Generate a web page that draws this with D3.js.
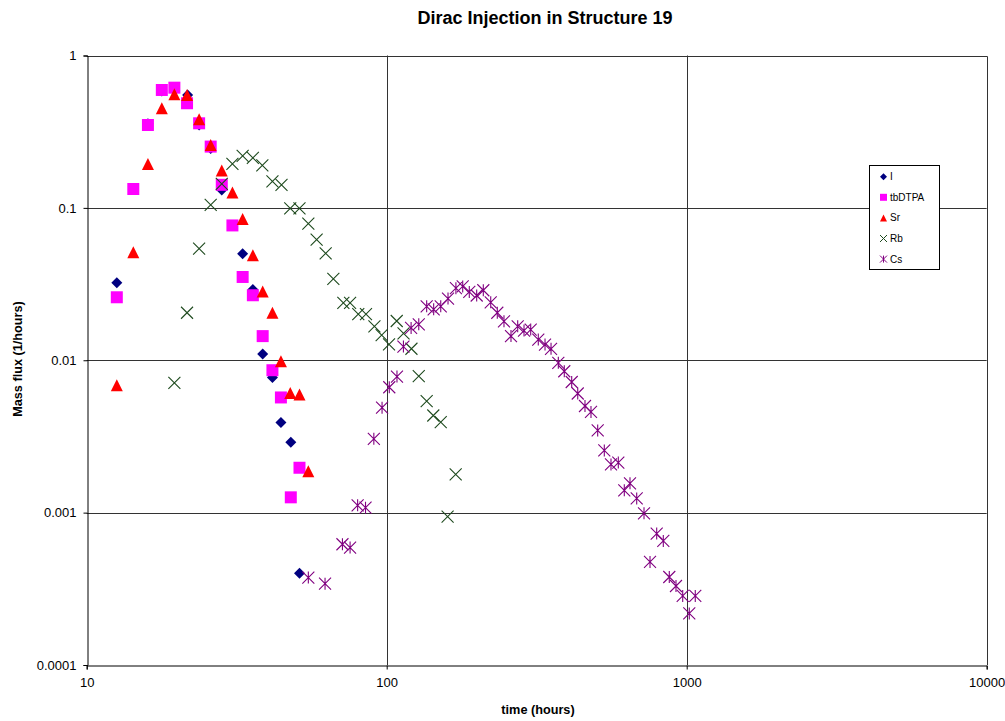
<!DOCTYPE html>
<html>
<head>
<meta charset="utf-8">
<script src="https://cdn.jsdelivr.net/npm/d3@7"></script>
<style>
  body { margin: 0; background: #fff; }
  text { font-family: Arial, "Liberation Sans", sans-serif; }
</style>
</head>
<body>
<div id="chart"></div>
<script>
// data (time in hours, mass flux in 1/hours)
const iTime = [12.6, 14.3, 16.0, 17.8, 19.6, 21.7, 23.7, 25.9, 28.2, 33.1, 35.8, 38.6, 41.6, 44.4, 47.9, 51.2];
const iFlux = [0.0322, 0.132, 0.356, 0.585, 0.60, 0.551, 0.350, 0.245, 0.131, 0.050, 0.0291, 0.0110, 0.0077, 0.0039, 0.0029, 0.0004];

const tbTime = [12.6, 14.3, 16.0, 17.8, 19.6, 21.6, 23.7, 25.9, 28.2, 30.6, 33.1, 35.8, 38.6, 41.6, 44.4, 47.9, 51.2];
const tbFlux = [0.0259, 0.133, 0.350, 0.594, 0.615, 0.486, 0.359, 0.2525, 0.1417, 0.0767, 0.0352, 0.0267, 0.0144, 0.0086, 0.0057, 0.00126, 0.00197];

const srTime = [12.6, 14.3, 16.0, 17.8, 19.6, 21.6, 23.7, 25.9, 28.2, 30.6, 33.1, 35.8, 38.6, 41.6, 44.4, 47.7, 51.2, 54.8];
const srFlux = [0.00686, 0.0512, 0.194, 0.451, 0.557, 0.551, 0.382, 0.259, 0.176, 0.126, 0.0844, 0.0489, 0.0283, 0.0205, 0.00985, 0.0061, 0.00596, 0.00187];

const rbTime = [19.6, 21.6, 23.7, 25.9, 28.2, 30.6, 33.1, 35.8, 38.5, 41.6, 44.6, 47.7, 51.2, 54.8, 58.4, 62.6, 66.4, 71.7,
  75.5, 80.4, 85.3, 91.0, 96.2, 101.8, 108.0, 113.8, 120.9, 127.9, 135.9, 143.0, 151.4, 159.6, 169.8];
const rbFlux = [0.00711, 0.0205, 0.054, 0.1048, 0.1439, 0.1945, 0.2195, 0.213, 0.190, 0.1494, 0.1417, 0.0994, 0.0994, 0.0787,
  0.0618, 0.0503, 0.0342, 0.0238, 0.0238, 0.0201, 0.0201, 0.0167, 0.0146, 0.0127, 0.0181, 0.0150, 0.0119, 0.00788, 0.00539,
  0.00434, 0.00393, 0.000941, 0.00178];

const csTime = [54.8, 62.3, 71.2, 75.5, 80.0, 85.0, 90.6, 96.5, 102.0, 108.2, 113.7, 120.6, 127.9, 135.9, 143.4, 151.4, 160.1,
  170.1, 179.2, 188.5, 199.5, 209.9, 222.2, 233.7, 246.0, 259.6, 273.3, 286.9, 302.0, 320.1, 337.1, 353.0, 373.3, 390.8,
  413.7, 433.3, 458.1, 479.7, 505.0, 531.3, 559.3, 591.6, 619.4, 647.1, 681.3, 720.6, 754.6, 794.3, 835.6, 874.9, 921.1,
  969.8, 1020, 1068];
const csFlux = [0.000375, 0.000342, 0.00062, 0.00059, 0.001116, 0.001078, 0.00305, 0.00488, 0.00665, 0.00782, 0.0123, 0.0163,
  0.0172, 0.0226, 0.0216, 0.0226, 0.0254, 0.0297, 0.0305, 0.0281, 0.0266, 0.0288, 0.0240, 0.0205, 0.0180, 0.0144, 0.0167,
  0.01565, 0.0159, 0.01366, 0.01267, 0.01188, 0.00962, 0.00847, 0.0072, 0.00605, 0.00501, 0.00458, 0.00346, 0.00256,
  0.00207, 0.00213, 0.0014, 0.001556, 0.00124, 0.00099, 0.000475, 0.000729, 0.000652, 0.000378, 0.00033, 0.000284,
  0.000218, 0.000284];

const seriesNames = ["I", "tbDTPA", "Sr", "Rb", "Cs"];
const xTicks = [10, 100, 1000, 10000];
const yTicks = [0.0001, 0.001, 0.01, 0.1, 1];

const width = 1005, height = 721;
const margin = {top: 55.5, right: 18.3, bottom: 56, left: 86.7};

const series = [
  {name: "I", t: iTime, v: iFlux, color: "#000080", shape: "diamond"},
  {name: "tbDTPA", t: tbTime, v: tbFlux, color: "#ff00ff", shape: "square"},
  {name: "Sr", t: srTime, v: srFlux, color: "#ff0000", shape: "triangle"},
  {name: "Rb", t: rbTime, v: rbFlux, color: "#1e4a1e", shape: "cross"},
  {name: "Cs", t: csTime, v: csFlux, color: "#800080", shape: "star"}
];

const x = d3.scaleLog().domain([10, 10000]).range([margin.left, width - margin.right]);
const y = d3.scaleLog().domain([0.0001, 1]).range([height - margin.bottom, margin.top]);

// marker path, centred on 0,0
function markerPath(shape, s) {
  const h = s / 2;
  if (shape === "diamond") return `M0,${-h}L${h},0L0,${h}L${-h},0Z`;
  if (shape === "square") return `M${-h},${-h}H${h}V${h}H${-h}Z`;
  if (shape === "triangle") return `M0,${-h}L${h},${h}H${-h}Z`;
  if (shape === "cross") return `M${-h},${-h}L${h},${h}M${h},${-h}L${-h},${h}`;
  return `M${-h},${-h}L${h},${h}M${h},${-h}L${-h},${h}M0,${-h}V${h}`;
}
const filled = s => s === "diamond" || s === "square" || s === "triangle";
const sizes = {diamond: 11, square: 12, triangle: 12, cross: 12, star: 12};

const svg = d3.select("#chart").append("svg")
  .attr("width", width).attr("height", height);

// gridlines
svg.append("g").selectAll("line").data(yTicks.slice(1, -1)).join("line")
  .attr("x1", margin.left).attr("x2", width - margin.right)
  .attr("y1", d => Math.round(y(d)) + 0.5).attr("y2", d => Math.round(y(d)) + 0.5)
  .attr("stroke", "#333").attr("stroke-width", 1);
svg.append("g").selectAll("line").data(xTicks.slice(1, -1)).join("line")
  .attr("y1", margin.top).attr("y2", height - margin.bottom)
  .attr("x1", d => Math.round(x(d)) + 0.5).attr("x2", d => Math.round(x(d)) + 0.5)
  .attr("stroke", "#333").attr("stroke-width", 1);

// plot frame (top and right)
svg.append("path")
  .attr("d", `M${margin.left},${Math.round(margin.top) + 0.5}H${Math.round(width - margin.right) + 0.5}V${height - margin.bottom}`)
  .attr("fill", "none").attr("stroke", "#333").attr("stroke-width", 1);

// axes
const xAxis = d3.axisBottom(x).tickValues(xTicks).tickFormat(d3.format("d")).tickSizeOuter(0).tickSize(4).tickPadding(8);
const yAxis = d3.axisLeft(y).tickValues(yTicks).tickFormat(d => String(d)).tickSizeOuter(0).tickSize(4).tickPadding(7);

const gx = svg.append("g").attr("transform", `translate(0,${Math.round(height - margin.bottom) + 0.5})`).call(xAxis);
const gy = svg.append("g").attr("transform", `translate(${Math.round(margin.left) + 0.5},0)`).call(yAxis);
[gx, gy].forEach(g => {
  g.select(".domain").attr("stroke", "#000");
  g.selectAll(".tick line").attr("stroke", "#000");
  g.selectAll(".tick text").attr("font-size", 13).attr("fill", "#000")
    .attr("font-family", "Arial, 'Liberation Sans', sans-serif");
});

// points
series.forEach(s => {
  svg.append("g").selectAll("path").data(s.t.map((t, i) => [t, s.v[i]])).join("path")
    .attr("transform", d => `translate(${x(d[0])},${y(d[1])})`)
    .attr("d", markerPath(s.shape, sizes[s.shape]))
    .attr("fill", filled(s.shape) ? s.color : "none")
    .attr("stroke", s.color)
    .attr("stroke-width", filled(s.shape) ? 0 : 1.1);
});

// title and axis titles
svg.append("text").attr("x", 545).attr("y", 24).attr("text-anchor", "middle")
  .attr("font-size", 18).attr("font-weight", "bold").text("Dirac Injection in Structure 19");
svg.append("text").attr("x", 538).attr("y", 714).attr("text-anchor", "middle")
  .attr("font-size", 12.7).attr("font-weight", "bold").text("time (hours)");
svg.append("text").attr("transform", "translate(22,359) rotate(-90)").attr("text-anchor", "middle")
  .attr("font-size", 12.7).attr("font-weight", "bold").text("Mass flux (1/hours)");

// legend
const legend = svg.append("g");
legend.append("rect").attr("x", 869.5).attr("y", 165.5).attr("width", 70).attr("height", 104)
  .attr("fill", "#fff").attr("stroke", "#000");
series.forEach((s, i) => {
  const ly = 176.7 + i * 20.6;
  legend.append("path")
    .attr("transform", `translate(883.5,${ly})`)
    .attr("d", markerPath(s.shape, 7))
    .attr("fill", filled(s.shape) ? s.color : "none")
    .attr("stroke", s.color)
    .attr("stroke-width", filled(s.shape) ? 0 : 1);
  legend.append("text").attr("x", 890).attr("y", ly + 3.5)
    .attr("font-size", 10).text(seriesNames[i]);
});
</script>
</body>
</html>
